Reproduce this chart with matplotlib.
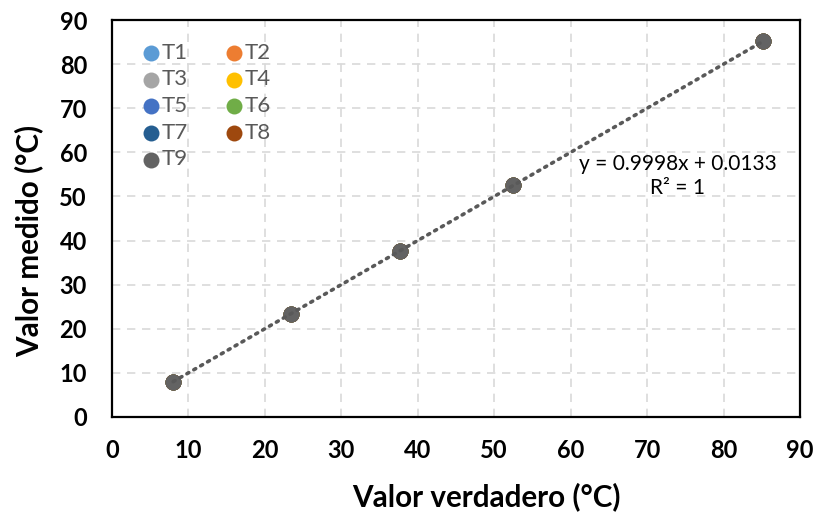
import matplotlib
matplotlib.use("Agg")
import matplotlib.pyplot as plt
import numpy as np

plt.rcParams['font.family'] = ['Lato', 'DejaVu Sans']

# Calibration data: reference temperature vs. reading of each sensor
valor_verdadero = [8.0, 23.4, 37.7, 52.5, 85.2]
sensores = ["T1", "T2", "T3", "T4", "T5", "T6", "T7", "T8", "T9"]
valor_medido = {
    "T1": [8.0, 23.4, 37.7, 52.5, 85.2],
    "T2": [8.0, 23.4, 37.7, 52.5, 85.2],
    "T3": [8.0, 23.4, 37.7, 52.5, 85.2],
    "T4": [8.0, 23.4, 37.7, 52.5, 85.2],
    "T5": [8.0, 23.4, 37.7, 52.5, 85.2],
    "T6": [8.0, 23.4, 37.7, 52.5, 85.2],
    "T7": [8.0, 23.4, 37.7, 52.5, 85.2],
    "T8": [8.0, 23.4, 37.7, 52.5, 85.2],
    "T9": [8.0, 23.4, 37.7, 52.5, 85.2],
}
colores = ["#5B9BD5", "#ED7D31", "#A5A5A5", "#FFC000", "#4472C4",
           "#70AD47", "#255E91", "#9E480E", "#636363"]

# Linear trend (T9)
pendiente = 0.9998
intercepto = 0.0133
r2 = 1

ticks = list(range(0, 100, 10))

fig = plt.figure(figsize=(8.16, 5.14), dpi=100)
ax = fig.add_axes([112/816, 1 - 417/514, (800 - 112)/816, (417 - 20)/514])

handles = {}
for nombre, color in zip(sensores, colores):
    h = ax.scatter(valor_verdadero, valor_medido[nombre], s=132, color=color,
                   zorder=3, label=nombre, linewidths=0)
    handles[nombre] = h

# Trend line over the data range
xt = np.array([min(valor_verdadero), max(valor_verdadero)])
ax.plot(xt, pendiente * xt + intercepto, linestyle=(0, (0.6, 1.6)),
        color="#595959", linewidth=2.6, dash_capstyle="round", zorder=4)

ax.text(74.0, 54.6, f"y = {pendiente}x + {intercepto}\nR² = {r2}",
        ha="center", va="center", fontsize=15, color="black",
        linespacing=1.25, zorder=5)

ax.set_xlim(0, 90)
ax.set_ylim(0, 90)
ax.set_xticks(ticks)
ax.set_yticks(ticks)
ax.tick_params(length=0, labelsize=17)
ax.tick_params(axis="x", pad=16)
ax.tick_params(axis="y", pad=18)
for lab in ax.get_xticklabels() + ax.get_yticklabels():
    lab.set_fontweight("bold")
ax.grid(True, color="#D9D9D9", linestyle=(0, (5, 4)), linewidth=1.2)
ax.set_axisbelow(True)
for sp in ax.spines.values():
    sp.set_color("black")
    sp.set_linewidth(1.6)

fig.text(486/816, 1 - 497/514, "Valor verdadero (°C)", fontsize=21.3,
         fontweight="bold", ha="center", va="center")
fig.text(29/816, 1 - 241/514, "Valor medido (°C)", fontsize=21.3,
         fontweight="bold", ha="center", va="center", rotation=90)

orden = ["T1", "T3", "T5", "T7", "T9", "T2", "T4", "T6", "T8"]
leg = ax.legend([handles[n] for n in orden], orden, ncol=2, frameon=False,
                loc="upper left", bbox_to_anchor=(0.045, 0.9425),
                fontsize=16, labelcolor="#595959", handletextpad=0.15,
                columnspacing=1.7, labelspacing=0.3, borderaxespad=0,
                borderpad=0, handlelength=0.7)

fig.savefig("out.png", dpi=100)
